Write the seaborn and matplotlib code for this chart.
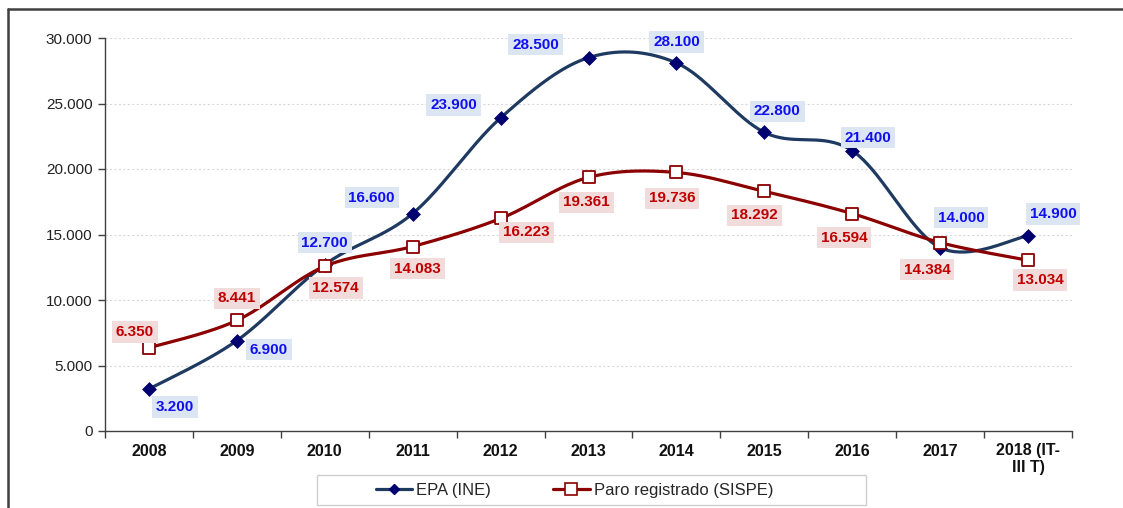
import numpy as np
import pandas as pd
import matplotlib
matplotlib.use("Agg")
import matplotlib.pyplot as plt
import seaborn as sns
from matplotlib.lines import Line2D
from matplotlib.patches import Rectangle
from matplotlib.ticker import FuncFormatter, FixedLocator

# ---- data ----
years = ["2008", "2009", "2010", "2011", "2012", "2013", "2014", "2015", "2016", "2017", "2018 (IT-\nIII T)"]
epa = [3200, 6900, 12700, 16600, 23900, 28500, 28100, 22800, 21400, 14000, 14900]
paro = [6350, 8441, 12574, 14083, 16223, 19361, 19736, 18292, 16594, 14384, 13034]
series_names = ["EPA (INE)", "Paro registrado (SISPE)"]
y_ticks = [0, 5000, 10000, 15000, 20000, 25000, 30000]

# ---- style ----
sns.set_theme(style="white")
plt.rcParams["font.family"] = ["Liberation Sans", "DejaVu Sans"]

BLUE_LINE = "#1F3A60"
BLUE_MARK = "#000070"
BLUE_TXT = "#1010F0"
BLUE_BOX = "#DCE6F2"
RED_LINE = "#8B0000"
RED_TXT = "#C00000"
RED_BOX = "#F2DCDB"

# label offsets in pixels (dx, dy), style only
epa_off = [(26, -18), (32, -9), (0, 22), (-41, 16), (-47, 13), (-53, 13), (0, 21), (13, 21), (16, 13), (21, 30), (25, 22)]
paro_off = [(-14, 16), (0, 22), (11, -22), (5, -22), (26, -14), (-2, -25), (-4, -26), (-10, -24), (-8, -24), (-13, -27), (12, -20)]


def smooth(x, y, n=40):
    """Excel-like smoothed line (Catmull-Rom as cubic Bezier)."""
    x = np.asarray(x, float)
    y = np.asarray(y, float)
    P = np.column_stack([x, y])
    Pp = np.vstack([P[0], P, P[-1]])
    out = []
    t = np.linspace(0, 1, n)[:, None]
    for i in range(len(P) - 1):
        p0, p3 = P[i], P[i + 1]
        c1 = p0 + (Pp[i + 2] - Pp[i]) / 6.0
        c2 = p3 - (Pp[i + 3] - Pp[i + 1]) / 6.0
        seg = (1 - t) ** 3 * p0 + 3 * (1 - t) ** 2 * t * c1 + 3 * (1 - t) * t ** 2 * c2 + t ** 3 * p3
        out.append(seg if i == 0 else seg[1:])
    s = np.vstack(out)
    return s[:, 0], s[:, 1]


fig = plt.figure(figsize=(11.23, 5.08), dpi=100)
ax = fig.add_axes([105 / 1123, 77 / 508, 967 / 1123, 393 / 508])

xpos = np.arange(len(years))
df = pd.DataFrame({"x": xpos, "epa": epa, "paro": paro})

# smoothed lines
sx, sy = smooth(xpos, epa)
ax.plot(sx, sy, color=BLUE_LINE, lw=2.3, zorder=3, solid_capstyle="round")
sx2, sy2 = smooth(xpos, paro)
ax.plot(sx2, sy2, color=RED_LINE, lw=2.3, zorder=3, solid_capstyle="round")

# markers via seaborn
sns.scatterplot(data=df, x="x", y="epa", marker="D", s=50, color=BLUE_MARK,
                edgecolor=BLUE_MARK, linewidth=0.5, ax=ax, zorder=4, legend=False)
sns.scatterplot(data=df, x="x", y="paro", marker="s", s=85, color="white",
                edgecolor=RED_LINE, linewidth=1.3, ax=ax, zorder=4, legend=False)


def fmt(v):
    return f"{int(round(v)):,}".replace(",", ".")


for i, v in enumerate(epa):
    ax.annotate(fmt(v), (xpos[i], v), xytext=epa_off[i], textcoords="offset pixels",
                ha="center", va="center", fontsize=11, fontweight="bold", color=BLUE_TXT,
                bbox=dict(boxstyle="square,pad=0.25", fc=BLUE_BOX, ec="none"), zorder=6)
for i, v in enumerate(paro):
    ax.annotate(fmt(v), (xpos[i], v), xytext=paro_off[i], textcoords="offset pixels",
                ha="center", va="center", fontsize=11, fontweight="bold", color=RED_TXT,
                bbox=dict(boxstyle="square,pad=0.25", fc=RED_BOX, ec="none"), zorder=6)

# axes
ax.set_xlim(-0.5, len(years) - 0.5)
ax.set_ylim(0, 30000)
ax.set_xlabel("")
ax.set_ylabel("")
ax.set_yticks(y_ticks)
ax.yaxis.set_major_formatter(FuncFormatter(lambda v, p: fmt(v)))
ax.set_xticks(xpos)
ax.set_xticklabels(years, fontsize=11.5, fontweight="bold", color="#111111", linespacing=1.15)
ax.xaxis.set_minor_locator(FixedLocator(np.arange(-0.5, len(years), 1.0)))
ax.tick_params(axis="x", which="major", length=0, pad=9)
ax.tick_params(axis="x", which="minor", length=5, width=1, color="#404040", direction="out", bottom=True)
ax.tick_params(axis="y", which="major", length=5, width=1, color="#404040", direction="out",
               labelsize=11, labelcolor="#222222", pad=4, left=True)
ax.grid(axis="y", color="#D9D9D9", lw=0.8, linestyle=(0, (2, 2)))
ax.grid(axis="x", visible=False)
ax.set_axisbelow(True)
for side in ["top", "right"]:
    ax.spines[side].set_visible(False)
ax.spines["left"].set_color("#404040")
ax.spines["bottom"].set_color("#404040")
ax.spines["left"].set_linewidth(1)
ax.spines["bottom"].set_linewidth(1)

# legend
handles = [
    Line2D([], [], color=BLUE_LINE, lw=2.3, marker="D", ms=5.5, mfc=BLUE_MARK, mec=BLUE_MARK),
    Line2D([], [], color=RED_LINE, lw=2.3, marker="s", ms=8.5, mfc="white", mec=RED_LINE, mew=1.2),
]
fig.legend(handles, series_names, loc="center", bbox_to_anchor=(574.5 / 1123, 1 - 490 / 508),
           ncol=2, frameon=False, fontsize=12, handlelength=2.2, handletextpad=0.25,
           columnspacing=3.7, borderpad=0)
fig.add_artist(Rectangle((317 / 1123, 3 / 508), 549 / 1123, 30 / 508, transform=fig.transFigure,
                         fill=False, ec="#D0D0D0", lw=1))

# outer border (top and left visible)
fig.add_artist(Line2D([8 / 1123, 1.0], [1 - 9 / 508, 1 - 9 / 508], transform=fig.transFigure,
                      color="#404040", lw=1.8))
fig.add_artist(Line2D([8 / 1123, 8 / 1123], [0, 1 - 9 / 508], transform=fig.transFigure,
                      color="#404040", lw=1.8))

fig.savefig("out.png", dpi=100)
